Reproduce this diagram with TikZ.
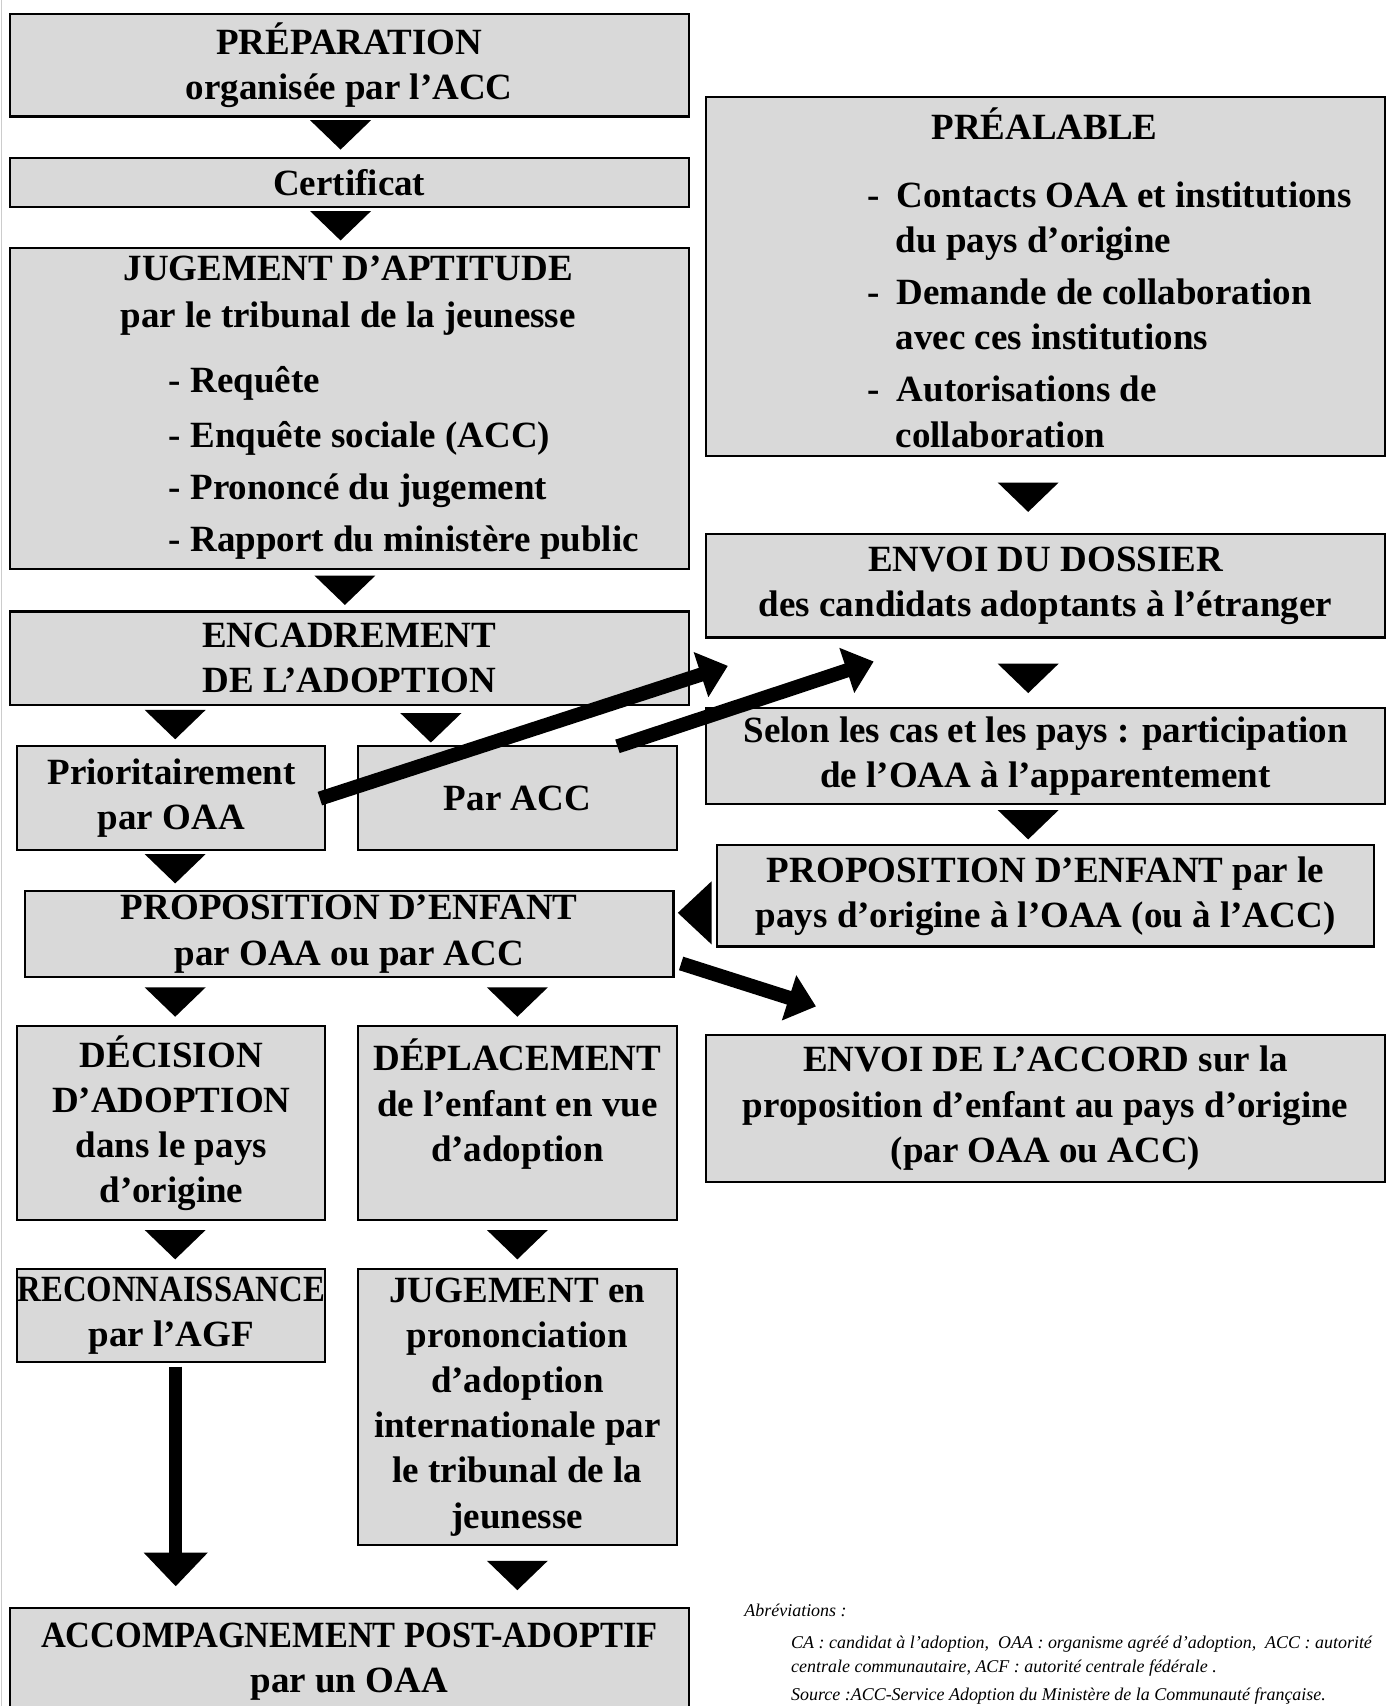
\documentclass[tikz,border=0pt]{standalone}
\usepackage{fontspec}
\setmainfont{Liberation Serif}
\usepackage{graphicx}
\usetikzlibrary{calc,arrows.meta}
\definecolor{boxgray}{RGB}{217,217,217}
\newcommand\bx[6]{\node[box,anchor=north west,minimum width=#4pt-#2pt,minimum height=#5pt-#3pt] (#1) at (#2,#3) {#6};}
\newcommand\dtri[1]{\fill #1 ++(-28,-13.5) -- ++(56,0) -- ++(-28,27) -- cycle;}
\begin{document}
\begin{tikzpicture}[x=1pt,y=-1pt,
  box/.style={draw=black,line width=2pt,fill=boxgray,align=center,inner sep=0pt,font=\bfseries\fontsize{34}{41.5}\selectfont},
  txt/.style={inner sep=0pt,font=\bfseries\fontsize{34}{41.5}\selectfont},
  abbr/.style={inner sep=0pt,font=\itshape\fontsize{16.5}{22}\selectfont},
  fat/.style={line width=13pt,-{Triangle[length=26pt,width=42pt]}},
  fatv/.style={line width=12pt,-{Triangle[length=31pt,width=57pt]}}]
\useasboundingbox (0,0) rectangle (1280,1568);
\draw[gray!40,line width=1pt] (1,0) -- (1,1568);
% left column
\bx{prep}{8}{12}{632}{106}{PRÉPARATION\\organisée par l’ACC}
\bx{cert}{8}{144}{632}{189}{Certificat}
\bx{jug}{8}{227}{632}{522}{}
\node[txt,anchor=base] (jugt1) at (320,258) {JUGEMENT D’APTITUDE};
\node[txt,anchor=base] (jugt2) at (320,301) {par le tribunal de la jeunesse};
\node[txt,anchor=base west] (jugi1) at (155,361) {- Requête};
\node[txt,anchor=base west] (jugi2) at (155,411) {- Enquête sociale (ACC)};
\node[txt,anchor=base west] (jugi3) at (155,459) {- Prononcé du jugement};
\node[txt,anchor=base west] (jugi4) at (155,507) {- Rapport du ministère public};
\bx{enc}{8}{561}{632}{647}{ENCADREMENT\\DE L’ADOPTION}
\bx{prio}{15}{685}{298}{780}{Prioritairement\\par OAA}
\bx{acc}{328}{685}{621}{780}{Par ACC}
\bx{prop}{22}{818}{618}{897}{PROPOSITION D’ENFANT\\par OAA ou par ACC}
\bx{dec}{15}{942}{298}{1120}{\rule{0pt}{30pt}DÉCISION\\D’ADOPTION\\dans le pays\\d’origine}
\bx{depl}{328}{942}{621}{1120}{DÉPLACEMENT\\de l’enfant en vue\\d’adoption\\\mbox{}}
\bx{reco}{15}{1165}{298}{1251}{\scalebox{0.885}[1]{RECONNAISSANCE}\\par l’AGF}
\bx{jugb}{328}{1165}{621}{1419}{JUGEMENT en\\prononciation\\d’adoption\\internationale par\\le tribunal de la\\jeunesse}
\bx{accp}{8}{1477}{632}{1575}{\scalebox{0.93}[1]{ACCOMPAGNEMENT POST-ADOPTIF}\\par un OAA}
% right column
\bx{preal}{648}{88}{1272}{418}{}
\node[txt,anchor=base] (prealt) at (960,128) {PRÉALABLE};
\node[txt,anchor=base west] (pd1) at (797,191) {-};
\node[txt,anchor=base west] (pi1) at (824,191) {Contacts OAA et institutions};
\node[txt,anchor=base west] (pi1b) at (823,232) {du pays d’origine};
\node[txt,anchor=base west] (pd2) at (797,280) {-};
\node[txt,anchor=base west] (pi2) at (824,280) {Demande de collaboration};
\node[txt,anchor=base west] (pi2b) at (823,321) {avec ces institutions};
\node[txt,anchor=base west] (pd3) at (797,369) {-};
\node[txt,anchor=base west] (pi3) at (824,369) {Autorisations de};
\node[txt,anchor=base west] (pi3b) at (823,411) {collaboration};
\bx{envoi}{648}{490}{1272}{585}{ENVOI DU DOSSIER\\des candidats adoptants à l’étranger}
\bx{selon}{648}{650}{1272}{738}{Selon les cas et les pays : participation\\de l’OAA à l’apparentement}
\bx{propr}{658}{776}{1262}{869}{PROPOSITION D’ENFANT par le\\pays d’origine à l’OAA (ou à l’ACC)}
\bx{accord}{648}{950}{1272}{1085}{ENVOI DE L’ACCORD sur la\\proposition d’enfant au pays d’origine\\(par OAA ou ACC)}
% triangle connectors
\dtri{($(prep.south)!.5!(cert.north)+(-8,-2)$)}
\dtri{($(cert.south)!.5!(jug.north)+(-8,-1.5)$)}
\dtri{($(jug.south)!.5!(enc.north)+(-4,0)$)}
\dtri{($(enc.south -| prio.north)!.5!(prio.north)+(3.5,-1)$)}
\dtri{($(enc.south -| acc.north)!.5!(acc.north)+(-79.5,2)$)}
\dtri{($(prio.south)!.5!(prio.south |- prop.north)+(3.5,-1.5)$)}
\dtri{($(prop.south -| dec.north)!.5!(dec.north)+(3.5,0.5)$)}
\dtri{($(prop.south -| depl.north)!.5!(depl.north)+(0,0.5)$)}
\dtri{($(dec.south)!.5!(reco.north)+(3.5,0.5)$)}
\dtri{($(depl.south)!.5!(jugb.north)+(0,0.5)$)}
\dtri{($(jugb.south -| jugb.north)!.5!(jugb.south |- accp.north)+(0,-1)$)}
\dtri{($(preal.south)!.5!(envoi.north)+(-16,2)$)}
\dtri{($(envoi.south)!.5!(selon.north)+(-16,5)$)}
\dtri{($(selon.south)!.5!(propr.north -| selon.south)+(-16,0)$)}
\fill ($(propr.west)+(-4,15.5)$) ++(0,-29) -- ++(0,58) -- ++(-31,-29) -- cycle;
% thick arrows
\draw[fat] ($(prio.east)+(-6,0.5)$) -- ($(envoi.south west)+(21,25)$);
\draw[fat] ($(acc.north)+(92,1)$) -- ($(envoi.south west)+(155,21)$);
\draw[fat] ($(prop.east)+(6,27)$) -- ($(accord.north west)+(102,-25)$);
\draw[fatv] ($(reco.south)+(4,3)$) -- ($(reco.south |- accp.north)+(4,-19)$);
% abbreviations
\node[abbr,anchor=base west] (ab1) at (684,1486) {Abréviations :};
\node[abbr,anchor=base west] (ab2) at (727,1515) {CA : candidat à l’adoption,~ OAA : organisme agréé d’adoption,~ ACC : autorité};
\node[abbr,anchor=base west] (ab3) at (727,1537) {centrale communautaire, ACF : autorité centrale fédérale .};
\node[abbr,anchor=base west] (ab4) at (727,1563) {Source :ACC-Service Adoption du Ministère de la Communauté française.};
\end{tikzpicture}
\end{document}
